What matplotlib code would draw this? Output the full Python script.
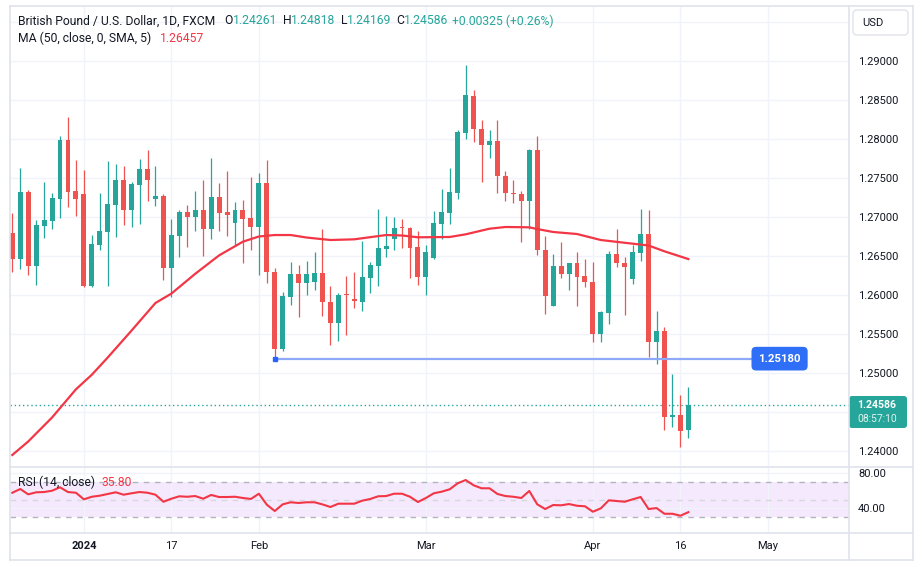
import matplotlib.pyplot as plt
import numpy as np
import pandas as pd
from matplotlib.lines import Line2D
from matplotlib.patches import FancyBboxPatch
from matplotlib.transforms import IdentityTransform

plt.rcParams['font.family'] = ['Roboto', 'DejaVu Sans']

W, H = 923, 567

# daily bars (FXCM, no bars on Dec 25 / Jan 1)
dates = pd.bdate_range('2023-12-18', '2024-05-24', freq='C',
                       holidays=['2023-12-25', '2024-01-01'])

opens = [
    1.26791, 1.26458, 1.27317, 1.26368, 1.26885, 1.26945, 1.27227, 1.27983, 1.27330, 1.27291,
    1.26112, 1.26637, 1.26804, 1.27150, 1.27471, 1.27086, 1.27406, 1.27612, 1.27227, 1.27265,
    1.26342, 1.26753, 1.27060, 1.26996, 1.27086, 1.26842, 1.27253, 1.27060, 1.26919, 1.27086,
    1.26983, 1.26868, 1.27432, 1.26291, 1.25304, 1.25974, 1.26265, 1.26154, 1.26167, 1.26278,
    1.25910, 1.25641, 1.26000, 1.25940, 1.25910, 1.26218, 1.26372, 1.26590, 1.26718, 1.26860,
    1.26850, 1.26612, 1.26231, 1.26474, 1.26910, 1.27051, 1.27308, 1.28077, 1.28547, 1.28128,
    1.27923, 1.27974, 1.27526, 1.27300, 1.27290, 1.27205, 1.27859, 1.26577, 1.25859, 1.26368,
    1.26269, 1.26406, 1.26240, 1.26167, 1.25500, 1.25769, 1.26522, 1.26410, 1.26205, 1.26538,
    1.26778, 1.25397, 1.25531, 1.24436, 1.24454, 1.24261]
highs = [
    1.27044, 1.27624, 1.27342, 1.26958, 1.27445, 1.27304, 1.28035, 1.28278, 1.27727, 1.27599,
    1.26765, 1.27304, 1.27714, 1.27676, 1.27650, 1.27445, 1.27740, 1.27855, 1.27650, 1.27291,
    1.26970, 1.27086, 1.27150, 1.27330, 1.27471, 1.27753, 1.27432, 1.27586, 1.27188, 1.27214,
    1.27509, 1.27560, 1.27727, 1.26338, 1.26035, 1.26419, 1.26381, 1.26432, 1.26547, 1.26842,
    1.26112, 1.26022, 1.26240, 1.26291, 1.26688, 1.26419, 1.27099, 1.27009, 1.26996, 1.26970,
    1.26868, 1.26817, 1.26637, 1.27073, 1.27355, 1.27624, 1.28112, 1.28945, 1.28624, 1.28240,
    1.28112, 1.28240, 1.27586, 1.27471, 1.27330, 1.27872, 1.28035, 1.26756, 1.26522, 1.26676,
    1.26410, 1.26547, 1.26458, 1.26419, 1.25795, 1.26560, 1.26842, 1.26483, 1.26637, 1.27099,
    1.27086, 1.25791, 1.25586, 1.24987, 1.24714, 1.24818]
lows = [
    1.26295, 1.26329, 1.26253, 1.26124, 1.26731, 1.26842, 1.26983, 1.27124, 1.27009, 1.26100,
    1.26100, 1.26573, 1.26112, 1.26740, 1.26894, 1.26868, 1.26906, 1.27201, 1.27137, 1.26188,
    1.25971, 1.26483, 1.26612, 1.26817, 1.26496, 1.26714, 1.26817, 1.26753, 1.26624, 1.26406,
    1.26573, 1.26253, 1.26150, 1.25180, 1.25278, 1.25868, 1.25718, 1.25996, 1.26060, 1.25731,
    1.25355, 1.25406, 1.25483, 1.25833, 1.25795, 1.26026, 1.26115, 1.26487, 1.26577, 1.26603,
    1.26218, 1.26128, 1.26000, 1.26460, 1.26718, 1.26910, 1.27231, 1.28000, 1.27962, 1.27449,
    1.27756, 1.27308, 1.27205, 1.27179, 1.26680, 1.26846, 1.26513, 1.25756, 1.25850, 1.26218,
    1.26064, 1.25859, 1.26103, 1.25397, 1.25397, 1.25628, 1.26359, 1.25744, 1.26141, 1.26436,
    1.25205, 1.25115, 1.24269, 1.24308, 1.24051, 1.24169]
closes = [
    1.26458, 1.27317, 1.26368, 1.26894, 1.26958, 1.27240, 1.27983, 1.27317, 1.27227, 1.26112,
    1.26650, 1.26817, 1.27163, 1.27471, 1.27086, 1.27419, 1.27612, 1.27471, 1.27265, 1.26342,
    1.26765, 1.27060, 1.26996, 1.27086, 1.26842, 1.27253, 1.27047, 1.27022, 1.27086, 1.26970,
    1.26868, 1.27432, 1.26295, 1.25304, 1.25983, 1.26265, 1.26154, 1.26265, 1.26278, 1.25910,
    1.25641, 1.25996, 1.25990, 1.25920, 1.26227, 1.26381, 1.26599, 1.26624, 1.26855, 1.26850,
    1.26603, 1.26231, 1.26547, 1.26919, 1.27060, 1.27317, 1.28086, 1.28560, 1.28128, 1.27923,
    1.27974, 1.27526, 1.27308, 1.27290, 1.27205, 1.27859, 1.26577, 1.25987, 1.26368, 1.26269,
    1.26406, 1.26231, 1.26167, 1.25500, 1.25778, 1.26522, 1.26410, 1.26359, 1.26547, 1.26778,
    1.25397, 1.25531, 1.24436, 1.24454, 1.24256, 1.24586]

# 50-day SMA
ma_dates = ['2023-12-18', '2023-12-20', '2023-12-26', '2023-12-29', '2024-01-03', '2024-01-05',
            '2024-01-10', '2024-01-15', '2024-01-17', '2024-01-22', '2024-01-25', '2024-01-30',
            '2024-02-01', '2024-02-05', '2024-02-07', '2024-02-09', '2024-02-14', '2024-02-19',
            '2024-02-23', '2024-02-27', '2024-02-29', '2024-03-06', '2024-03-08', '2024-03-13',
            '2024-03-15', '2024-03-20', '2024-03-21', '2024-03-25', '2024-03-28', '2024-04-02',
            '2024-04-08', '2024-04-10', '2024-04-12', '2024-04-17']
ma_vals = [1.23945, 1.24118, 1.24426, 1.24787, 1.24974, 1.25195, 1.25541, 1.25894, 1.26014,
           1.26268, 1.26504, 1.26680, 1.26746, 1.26765, 1.26765, 1.26733, 1.26701, 1.26710,
           1.26765, 1.26759, 1.26736, 1.26740, 1.26774, 1.26846, 1.26868, 1.26864, 1.26842,
           1.26804, 1.26778, 1.26701, 1.26654, 1.26631, 1.26556, 1.26457]

rsi_vals = [57.6, 61.8, 55.8, 58.1, 58.4, 59.9, 63.7, 58.4, 57.6, 50.2,
            53.1, 54.3, 56.2, 58.1, 55.4, 57.0, 58.4, 57.6, 55.4, 47.5,
            50.9, 53.6, 53.1, 53.9, 50.9, 55.1, 52.8, 52.8, 53.1, 51.7,
            50.6, 56.5, 44.2, 37.1, 44.6, 46.9, 46.1, 46.9, 46.9, 44.5,
            41.6, 45.3, 45.3, 45.3, 48.7, 50.6, 53.6, 53.9, 56.5, 56.5,
            53.1, 47.2, 51.7, 57.0, 58.8, 61.5, 68.2, 71.9, 66.0, 62.6,
            62.6, 56.2, 53.9, 53.1, 51.7, 59.6, 44.6, 39.3, 43.8, 43.5,
            44.9, 43.0, 42.4, 36.3, 40.1, 49.1, 48.3, 47.5, 50.2, 52.8,
            39.3, 40.4, 34.0, 34.0, 31.8, 35.8]

support_level = 1.25180
support_start, support_end = '2024-02-05', '2024-05-02'
last_price = 1.24586
price_ticks = [1.24, 1.245, 1.25, 1.255, 1.26, 1.265, 1.27, 1.275, 1.28, 1.285, 1.29]
tick_dates = ['2024-01-02', '2024-01-17', '2024-02-01', '2024-03-01', '2024-04-01',
              '2024-04-16', '2024-05-01']
tick_labels = ['2024', '17', 'Feb', 'Mar', 'Apr', '16', 'May']

GREEN, RED = '#26a69a', '#ef5350'
TXT, GRID, BORDER = '#131722', '#f0f3fa', '#e0e3eb'
HDR = 8.7  # legend font size


def pos(d):
    return dates.get_loc(pd.Timestamp(d))


def fr(x0, y0, w, h):
    return [x0 / W, 1 - (y0 + h) / H, w / W, h / H]


fig = plt.figure(figsize=(W / 100, H / 100), dpi=100, facecolor='white')
ax = fig.add_axes(fr(10, 6, 839, 460))
rx = fig.add_axes(fr(10, 467, 839, 66))

# ---- candles
o, hi, lo, c = map(np.array, (opens, highs, lows, closes))
x = np.arange(len(o))
cols = np.where(c >= o, GREEN, RED)
ax.vlines(x, lo, hi, colors=cols, lw=0.9, zorder=3)
ax.bar(x, np.maximum(np.abs(c - o), 0.00013), 0.62, bottom=np.minimum(o, c),
       color=cols, lw=0, zorder=3)

ax.plot([pos(d) for d in ma_dates], ma_vals, color='#f23645', lw=1.6, zorder=4)

xs, xe = pos(support_start), pos(support_end)
ax.plot([xs, xe], [support_level] * 2, color='#8fa9f9', lw=1.6, zorder=4)
ax.plot([xs], [support_level], 's', ms=3.5, color='#2962ff', zorder=5)
ax.annotate(f'{support_level:.5f}', xy=(xe, support_level), xytext=(2.7, 0),
            textcoords='offset points', ha='center', va='center', color='white',
            fontsize=8.2, fontweight='bold', zorder=6,
            bbox=dict(boxstyle='round,pad=0.6,rounding_size=0.4', fc='#2f6ef6', ec='none'))

ax.axhline(last_price, color=GREEN, lw=1, ls=(0, (1, 2)), zorder=2)

ax.set_xlim(-0.29, 105.2)
ax.set_ylim(1.238038, 1.297013)
ax.set_yticks(price_ticks)
# the 1.24500 label sits under the last-price tag, so it is left blank
ax.set_yticklabels(['' if abs(v - last_price) < 0.001 else f'{v:.5f}' for v in price_ticks])
ax.axhline(1.295, color=GRID, lw=1, zorder=0)
ax.yaxis.tick_right()
ax.set_xticks([pos(d) for d in tick_dates])
ax.tick_params(length=0, labelbottom=False, labelsize=8, labelcolor=TXT, pad=6.5)
ax.grid(True, color=GRID, lw=1)
ax.set_axisbelow(True)

# ---- RSI pane
rx.axhspan(30, 70, color='#f4e9fd', lw=0, zorder=0.2)
for lvl, col in ((70, '#b2b5be'), (50, '#d6d8de'), (30, '#b2b5be')):
    rx.axhline(lvl, color=col, lw=1, ls=(0, (4, 4)), zorder=1)
rx.plot(x, rsi_vals, color='#f23645', lw=1.5, zorder=4)
rx.set_xlim(-0.29, 105.2)
rx.set_ylim(12.4, 86.5)
rx.yaxis.tick_right()
rx.set_yticks([40, 80])
rx.set_yticklabels(['40.00', '80.00'])
rx.set_xticks([pos(d) for d in tick_dates])
rx.set_xticklabels(tick_labels)
rx.get_xticklabels()[0].set_fontweight('bold')
rx.tick_params(length=0, labelsize=8, labelcolor=TXT)
rx.tick_params(axis='y', pad=6.5)
rx.tick_params(axis='x', pad=6)
rx.grid(True, color=GRID, lw=1, zorder=0.5)
rx.set_axisbelow(True)

for a in (ax, rx):
    for s in a.spines.values():
        s.set_visible(False)

# ---- frame lines
def hline(y, x0=10, x1=913):
    fig.add_artist(Line2D([x0 / W, x1 / W], [1 - y / H] * 2, color=BORDER, lw=1.2))


def vline(xp, y0=5.5, y1=560):
    fig.add_artist(Line2D([xp / W] * 2, [1 - y0 / H, 1 - y1 / H], color=BORDER, lw=1.2))


for yy in (5.5, 466.5, 533, 560):
    hline(yy)
for xx in (10, 849, 913):
    vline(xx)


def box(x0, y0, w, h, fc, ec='none', r=3):
    fig.add_artist(FancyBboxPatch((x0, H - y0 - h), w, h,
                                  boxstyle=f'round,pad=0,rounding_size={r}',
                                  fc=fc, ec=ec, lw=1, transform=IdentityTransform()))


def ftext(xp, yp, s, **kw):
    kw.setdefault('fontsize', HDR)
    kw.setdefault('color', TXT)
    fig.text(xp / W, 1 - yp / H, s, va='center', **kw)


box(853, 10, 55, 25, 'white', ec=BORDER, r=4)
ftext(862, 23, 'USD', fontsize=8)

box(849, 396, 58, 32, GREEN, r=3)
ftext(857, 404.5, f'{last_price:.5f}', color='white', fontweight='bold', fontsize=7.6)
ftext(857, 419.5, '08:57:10', color='#dff3f0', fontsize=7.4)

# ---- legend texts
ftext(18, 21, 'British Pound / U.S. Dollar, 1D, FXCM')
ohlc = [('O', 224.5, opens[-1]), ('H', 283, highs[-1]), ('L', 340.5, lows[-1]),
        ('C', 396, closes[-1])]
for lab, xp, v in ohlc:
    ftext(xp, 21, lab)
    ftext(xp + (8 if lab != 'L' else 6.5), 21, f'{v:.5f}', color=GREEN)
chg = closes[-1] - opens[-1]
ftext(452, 21, f'+{chg:.5f} (+{chg / closes[-2] * 100:.2f}%)', color=GREEN)
ftext(18, 38.5, 'MA (50, close, 0, SMA, 5)')
ftext(160, 38.5, f'{ma_vals[-1]:.5f}', color='#f23645')
ftext(18, 482.5, 'RSI (14, close)')
ftext(102, 482.5, f'{rsi_vals[-1]:.2f}', color='#f23645')

fig.savefig('out.png', dpi=100, facecolor='white')
